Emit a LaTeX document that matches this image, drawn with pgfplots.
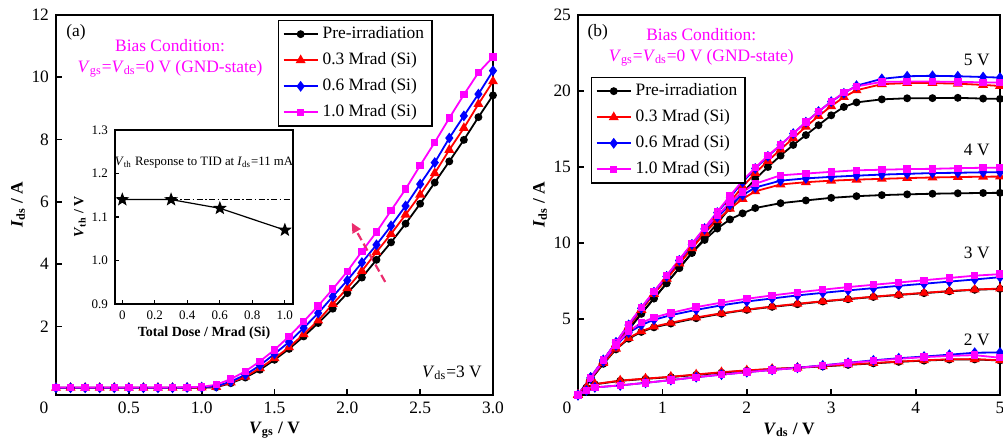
\documentclass[border=0pt]{standalone}
\usepackage{fontspec}
\setmainfont{Liberation Serif}
\usepackage{pgfplots}
\pgfplotsset{compat=1.18}
\usepackage{pgfplotstable}
\usetikzlibrary{arrows.meta}

\definecolor{arrowpink}{RGB}{235,45,110}
\definecolor{mag}{RGB}{255,0,255}

% filled five-point star for the inset
\pgfdeclareplotmark{fstar}{%
  \pgfpathmoveto{\pgfpointpolar{90}{\pgfplotmarksize}}%
  \pgfpathlineto{\pgfpointpolar{126}{0.42\pgfplotmarksize}}%
  \pgfpathlineto{\pgfpointpolar{162}{\pgfplotmarksize}}%
  \pgfpathlineto{\pgfpointpolar{198}{0.42\pgfplotmarksize}}%
  \pgfpathlineto{\pgfpointpolar{234}{\pgfplotmarksize}}%
  \pgfpathlineto{\pgfpointpolar{270}{0.42\pgfplotmarksize}}%
  \pgfpathlineto{\pgfpointpolar{306}{\pgfplotmarksize}}%
  \pgfpathlineto{\pgfpointpolar{342}{0.42\pgfplotmarksize}}%
  \pgfpathlineto{\pgfpointpolar{18}{\pgfplotmarksize}}%
  \pgfpathlineto{\pgfpointpolar{54}{0.42\pgfplotmarksize}}%
  \pgfpathclose
  \pgfusepathqfillstroke
}

\newcommand{\mainfont}{\fontsize{8.7}{10.5}\selectfont}

\pgfplotsset{
  s pre/.style={black, line width=0.9pt, mark=*, mark size=1.5pt},
  s 03/.style={red, line width=0.9pt, mark=triangle*, mark size=2pt},
  s 06/.style={blue, line width=0.9pt, mark=diamond*, mark size=2pt},
  s 10/.style={mag, line width=0.9pt, mark=square*, mark size=1.4pt},
  panel/.style={
    scale only axis,
    axis line style={line width=1.2pt},
    tick align=inside, xtick pos=bottom, ytick pos=left,
    major tick length=3pt,
    tick style={line width=0.9pt, black},
    tick label style={font=\mainfont},
    label style={font=\mainfont\bfseries},
    /pgf/number format/assume math mode=true,
    legend cell align=left,
    legend style={font=\mainfont, draw=black, line width=0.7pt,
      inner xsep=2pt, inner ysep=1pt, row sep=1.5pt},
  },
}

% panel (a): transfer curves, Vds = 3 V
\pgfplotstableread{
v pre r3 r6 r10
0.0 0.03 0.03 0.03 0.04
0.1 0.03 0.03 0.03 0.04
0.2 0.03 0.03 0.03 0.04
0.3 0.03 0.03 0.03 0.04
0.4 0.03 0.03 0.03 0.04
0.5 0.03 0.03 0.03 0.04
0.6 0.03 0.03 0.03 0.04
0.7 0.03 0.03 0.03 0.04
0.8 0.03 0.03 0.03 0.04
0.9 0.03 0.03 0.04 0.05
1.0 0.03 0.04 0.05 0.06
1.1 0.05 0.06 0.08 0.13
1.2 0.18 0.20 0.23 0.31
1.3 0.36 0.39 0.45 0.56
1.4 0.61 0.66 0.75 0.88
1.5 0.93 0.98 1.12 1.25
1.6 1.28 1.33 1.50 1.68
1.7 1.68 1.75 1.95 2.16
1.8 2.11 2.19 2.43 2.66
1.9 2.57 2.72 2.96 3.20
2.0 3.07 3.23 3.48 3.77
2.1 3.57 3.78 4.05 4.41
2.2 4.14 4.39 4.62 5.03
2.3 4.70 4.97 5.23 5.72
2.4 5.30 5.59 5.87 6.41
2.5 5.94 6.23 6.57 7.17
2.6 6.62 6.92 7.26 7.91
2.7 7.30 7.67 8.05 8.69
2.8 7.99 8.37 8.76 9.44
2.9 8.72 9.14 9.46 10.15
3.0 9.42 9.87 10.21 10.65
}\tba

% panel (b): output curves, one table per Vgs
\pgfplotstableread{
v pre r3 r6 r10
0 0 0 0 0
0.1 0.48 0.50 0.30 0.30
0.2 0.70 0.72 0.50 0.50
0.5 0.93 0.95 0.63 0.63
0.8 1.06 1.08 0.80 0.80
1.1 1.18 1.20 0.98 0.98
1.4 1.32 1.35 1.17 1.17
1.7 1.47 1.50 1.34 1.34
2.0 1.60 1.62 1.50 1.50
2.3 1.70 1.72 1.65 1.65
2.6 1.79 1.80 1.79 1.78
2.9 1.88 1.90 1.95 1.94
3.2 1.98 2.00 2.12 2.10
3.5 2.08 2.10 2.28 2.25
3.8 2.18 2.20 2.42 2.38
4.1 2.26 2.28 2.53 2.49
4.4 2.33 2.35 2.65 2.57
4.7 2.34 2.36 2.78 2.62
5.0 2.27 2.28 2.80 2.45
}\tbtwo

\pgfplotstableread{
v pre r3 r6 r10
0 0 0 0 0
0.15 1.00 1.05 1.10 1.10
0.3 2.05 2.10 2.20 2.25
0.45 3.00 3.05 3.25 3.30
0.6 3.70 3.75 4.10 4.20
0.75 4.15 4.20 4.60 4.75
0.9 4.45 4.50 4.95 5.10
1.1 4.70 4.75 5.25 5.40
1.4 5.05 5.10 5.60 5.78
1.7 5.35 5.38 5.90 6.08
2.0 5.60 5.62 6.15 6.33
2.3 5.80 5.82 6.35 6.55
2.6 5.97 6.00 6.55 6.75
2.9 6.15 6.17 6.72 6.93
3.2 6.30 6.32 6.88 7.10
3.5 6.45 6.47 7.03 7.25
3.8 6.58 6.60 7.18 7.40
4.1 6.70 6.72 7.32 7.55
4.4 6.82 6.84 7.46 7.70
4.7 6.92 6.94 7.60 7.85
5.0 6.98 7.00 7.75 7.95
}\tbthree

\pgfplotstableread{
v pre r3 r6 r10
0 0 0 0 0
0.15 1.05 1.10 1.15 1.15
0.3 2.15 2.20 2.30 2.30
0.45 3.25 3.35 3.45 3.45
0.6 4.30 4.50 4.60 4.65
0.75 5.35 5.60 5.70 5.75
0.9 6.35 6.65 6.75 6.80
1.05 7.35 7.65 7.80 7.85
1.2 8.35 8.65 8.85 8.90
1.35 9.35 9.65 9.90 9.95
1.5 10.20 10.65 10.90 10.95
1.65 10.95 11.50 11.70 11.80
1.8 11.55 12.25 12.50 12.65
1.95 11.95 12.90 13.15 13.35
2.1 12.30 13.40 13.65 13.90
2.4 12.62 13.85 14.10 14.45
2.7 12.80 14.00 14.25 14.57
3.0 12.97 14.10 14.35 14.68
3.3 13.08 14.17 14.43 14.78
3.6 13.15 14.22 14.50 14.82
3.9 13.20 14.27 14.55 14.86
4.2 13.24 14.31 14.60 14.88
4.5 13.27 14.34 14.62 14.92
4.8 13.29 14.36 14.65 14.95
5.0 13.30 14.37 14.66 14.95
}\tbfour

\pgfplotstableread{
v pre r3 r6 r10
0 0 0 0 0
0.15 1.05 1.10 1.15 1.15
0.3 2.15 2.20 2.30 2.30
0.45 3.25 3.35 3.45 3.45
0.6 4.30 4.50 4.60 4.65
0.75 5.35 5.60 5.70 5.75
0.9 6.35 6.65 6.75 6.80
1.05 7.35 7.65 7.80 7.85
1.2 8.35 8.65 8.85 8.90
1.35 9.35 9.65 9.90 9.95
1.5 10.30 10.70 10.95 11.00
1.65 11.30 11.70 12.00 12.05
1.8 12.30 12.70 13.00 13.10
1.95 13.30 13.70 14.00 14.10
2.1 14.20 14.60 14.90 14.95
2.25 15.00 15.40 15.70 15.75
2.4 15.75 16.15 16.45 16.45
2.55 16.45 16.90 17.20 17.20
2.7 17.10 17.65 17.95 17.95
2.85 17.75 18.35 18.65 18.65
3.0 18.40 19.00 19.30 19.30
3.15 18.95 19.60 19.85 19.90
3.3 19.25 20.05 20.35 20.30
3.6 19.45 20.45 20.80 20.60
3.9 19.52 20.52 20.97 20.62
4.2 19.53 20.52 21.00 20.62
4.5 19.55 20.48 20.97 20.60
4.8 19.50 20.40 20.92 20.57
5.0 19.48 20.33 20.88 20.55
}\tbfive

\begin{document}
\begin{tikzpicture}
\useasboundingbox (0,0) rectangle (501.5pt,221pt);

% ---------------- (a) ----------------
\begin{axis}[panel, name=pa,
  at={(28pt,23.5pt)}, anchor=south west,
  width=218.5pt, height=190pt,
  xmin=0, xmax=3, ymin=-0.2, ymax=12,
  xtick={0.5,1,1.5,2,2.5,3},
  xticklabels={0.5,1.0,1.5,2.0,2.5,3.0},
  ytick={2,4,6,8,10,12},
  xlabel={\textit{V}\textsubscript{gs} / V},
  ylabel={\textit{I}\textsubscript{ds} / A},
  xlabel style={at={(axis description cs:0.5,-0.092)}, anchor=center},
  ylabel style={at={(axis description cs:-0.087,0.5)}, anchor=center},
  legend style={at={(0.508,0.987)}, anchor=north west},
]
\addplot[s pre] table[x=v,y=pre]{\tba};
\addplot[s 03] table[x=v,y=r3]{\tba};
\addplot[s 06] table[x=v,y=r6]{\tba};
\addplot[s 10] table[x=v,y=r10]{\tba};
\legend{Pre-irradiation, 0.3 Mrad (Si), 0.6 Mrad (Si), 1.0 Mrad (Si)}
\draw[arrowpink, line width=1.1pt, dash pattern=on 4pt off 2pt,
  -{Triangle[length=5pt,width=4.5pt]}]
  (axis cs:2.26,3.43) -- (axis cs:2.03,5.33);
\node[font=\mainfont] at (rel axis cs:0.046,0.955) {(a)};
\node[font=\mainfont, text=mag, align=center] at (rel axis cs:0.261,0.886)
  {Bias Condition:\\\textit{V}\textsubscript{gs}=\textit{V}\textsubscript{ds}=0 V (GND-state)};
\node[font=\mainfont] at (rel axis cs:0.906,0.058) {\textit{V}\textsubscript{ds}=3 V};
\end{axis}
\node[font=\mainfont, anchor=north] at ([xshift=-6pt]pa.south west) {0};

% ---------------- inset ----------------
\begin{axis}[
  at={(57.5pt,69pt)}, anchor=south west, scale only axis,
  width=89pt, height=87pt,
  xmin=-0.045, xmax=1.05, ymin=0.9, ymax=1.3,
  xtick={0,0.2,0.4,0.6,0.8,1.0}, xticklabels={0,0.2,0.4,0.6,0.8,1.0},
  ytick={0.9,1.0,1.1,1.2,1.3}, yticklabels={0.9,1.0,1.1,1.2,1.3},
  tick align=inside, xtick pos=bottom, ytick pos=left,
  major tick length=2pt,
  axis line style={line width=0.8pt},
  tick style={line width=0.6pt, black},
  tick label style={font=\fontsize{6.5}{7.5}\selectfont},
  label style={font=\fontsize{7}{8}\selectfont\bfseries},
  xlabel={Total Dose / Mrad (Si)},
  ylabel={\textit{V}\textsubscript{th} / V},
  xlabel style={at={(axis description cs:0.5,-0.167)}, anchor=center},
  ylabel style={at={(axis description cs:-0.197,0.5)}, anchor=center},
]
\addplot[black, line width=0.6pt, dash pattern=on 3pt off 1.2pt on 0.8pt off 1.2pt]
  coordinates {(0,1.14) (1.05,1.14)};
\addplot[black, line width=0.6pt, mark=fstar, mark size=2.8pt]
  coordinates {(0,1.14) (0.3,1.14) (0.6,1.12) (1.0,1.07)};
\node[font=\fontsize{6.4}{7.5}\selectfont] at (rel axis cs:0.5,0.81)
  {\textit{V}\textsubscript{th} Response to TID at \textit{I}\textsubscript{ds}=11 mA};
\end{axis}

% ---------------- (b) ----------------
\begin{axis}[panel, name=pb,
  at={(289pt,23.5pt)}, anchor=south west,
  width=211pt, height=190pt,
  xmin=0, xmax=5, ymin=0, ymax=25,
  xtick={1,2,3,4,5},
  ytick={5,10,15,20,25},
  xlabel={\textit{V}\textsubscript{ds} / V},
  ylabel={\textit{I}\textsubscript{ds} / A},
  xlabel style={at={(axis description cs:0.5,-0.092)}, anchor=center},
  ylabel style={at={(axis description cs:-0.09,0.5)}, anchor=center},
  legend style={at={(0.031,0.837)}, anchor=north west},
]
\addplot[s pre] table[x=v,y=pre]{\tbfive};
\addplot[s 03] table[x=v,y=r3]{\tbfive};
\addplot[s 06] table[x=v,y=r6]{\tbfive};
\addplot[s 10] table[x=v,y=r10]{\tbfive};
\legend{Pre-irradiation, 0.3 Mrad (Si), 0.6 Mrad (Si), 1.0 Mrad (Si)}
\addplot[s pre, forget plot] table[x=v,y=pre]{\tbfour};
\addplot[s 03, forget plot] table[x=v,y=r3]{\tbfour};
\addplot[s 06, forget plot] table[x=v,y=r6]{\tbfour};
\addplot[s 10, forget plot] table[x=v,y=r10]{\tbfour};
\addplot[s pre, forget plot] table[x=v,y=pre]{\tbthree};
\addplot[s 03, forget plot] table[x=v,y=r3]{\tbthree};
\addplot[s 06, forget plot] table[x=v,y=r6]{\tbthree};
\addplot[s 10, forget plot] table[x=v,y=r10]{\tbthree};
\addplot[s pre, forget plot] table[x=v,y=pre]{\tbtwo};
\addplot[s 03, forget plot] table[x=v,y=r3]{\tbtwo};
\addplot[s 06, forget plot] table[x=v,y=r6]{\tbtwo};
\addplot[s 10, forget plot] table[x=v,y=r10]{\tbtwo};
\node[font=\mainfont] at (rel axis cs:0.047,0.955) {(b)};
\node[font=\mainfont, text=mag, align=center] at (rel axis cs:0.292,0.915)
  {Bias Condition:\\\textit{V}\textsubscript{gs}=\textit{V}\textsubscript{ds}=0 V (GND-state)};
\node[font=\mainfont] at (rel axis cs:0.945,0.882) {5 V};
\node[font=\mainfont] at (rel axis cs:0.945,0.645) {4 V};
\node[font=\mainfont] at (rel axis cs:0.945,0.374) {3 V};
\node[font=\mainfont] at (rel axis cs:0.945,0.145) {2 V};
\end{axis}
\node[font=\mainfont, anchor=north] at ([xshift=-5.5pt]pb.south west) {0};
\end{tikzpicture}
\end{document}
